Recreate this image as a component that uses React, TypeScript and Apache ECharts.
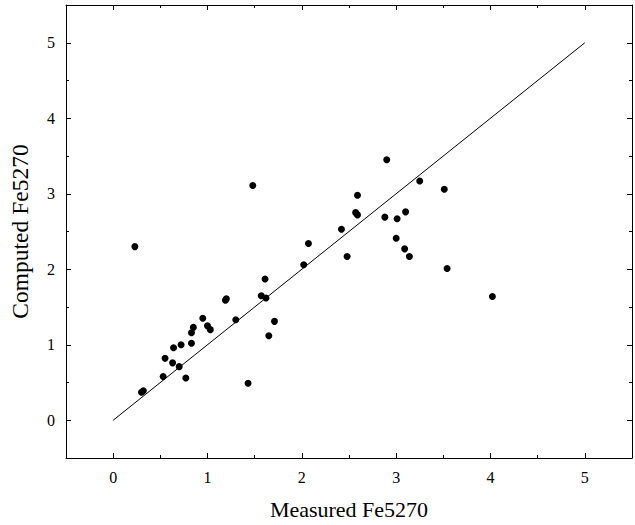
import React, { useEffect, useRef } from "react";
import * as echarts from "echarts";

const measured: number[] = [
  0.23, 0.30, 0.32, 0.53, 0.55, 0.63, 0.64, 0.70, 0.72, 0.77, 0.83, 0.83, 0.85, 0.95, 1.00,
  1.03, 1.19, 1.20, 1.30, 1.43, 1.48, 1.57, 1.62, 1.61, 1.65, 1.71, 2.02, 2.07, 2.42, 2.48,
  2.57, 2.59, 2.59, 2.88, 2.90, 3.00, 3.01, 3.09, 3.10, 3.14, 3.25, 3.51, 3.54, 4.02,
];
const computed: number[] = [
  2.30, 0.37, 0.39, 0.58, 0.82, 0.76, 0.96, 0.71, 1.00, 0.56, 1.02, 1.16, 1.23, 1.35, 1.25,
  1.20, 1.59, 1.61, 1.33, 0.49, 3.11, 1.65, 1.62, 1.87, 1.12, 1.31, 2.06, 2.34, 2.53, 2.17,
  2.75, 2.72, 2.98, 2.69, 3.45, 2.41, 2.67, 2.27, 2.76, 2.17, 3.17, 3.06, 2.01, 1.64,
];
const oneToOne: number[][] = [
  [0, 0],
  [5, 5],
];
const axisMin = -0.5;
const axisMax = 5.5;
const xTitle = "Measured Fe5270";
const yTitle = "Computed Fe5270";

const FONT = "Liberation Serif";

export default function App() {
  const ref = useRef<HTMLDivElement>(null);
  useEffect(() => {
    if (!ref.current) return;
    const chart = echarts.init(ref.current, null, { renderer: "svg" });
    // Label axis: ticks every 0.5 from -0.5, labels only on integers.
    const labelAxis = () => ({
      type: "value" as const,
      min: axisMin,
      max: axisMax,
      interval: 0.5,
      axisLine: { show: false, onZero: false },
      axisTick: { show: false },
      splitLine: { show: false },
      axisLabel: {
        show: true,
        color: "#000",
        fontFamily: FONT,
        fontSize: 16,
        margin: 11,
        formatter: (v: number) => (Math.abs(v - Math.round(v)) < 1e-6 ? String(Math.round(v)) : ""),
      },
    });
    // Tick axis: main ticks on half values (short), minor ticks on integers (long).
    const tickAxis = () => ({
      type: "value" as const,
      min: axisMin,
      max: axisMax,
      interval: 1,
      axisLine: { show: true, onZero: false, lineStyle: { color: "#000", width: 1 } },
      axisTick: { show: true, inside: true, length: 3, lineStyle: { color: "#000" } },
      minorTick: { show: true, splitNumber: 2, length: 5, lineStyle: { color: "#000" } },
      splitLine: { show: false },
      minorSplitLine: { show: false },
      axisLabel: { show: false },
    });
    chart.setOption({
      animation: false,
      backgroundColor: "#fff",
      textStyle: { fontFamily: FONT },
      grid: { left: 66, right: 2, top: 5, bottom: 66 },
      xAxis: [
        {
          ...labelAxis(),
          position: "bottom",
          name: xTitle,
          nameLocation: "middle",
          nameGap: 40,
          nameTextStyle: { color: "#000", fontFamily: FONT, fontSize: 22, verticalAlign: "top" },
        },
        { ...tickAxis(), position: "bottom" },
        { ...tickAxis(), position: "top" },
      ],
      yAxis: [
        {
          ...labelAxis(),
          position: "left",
          name: yTitle,
          nameLocation: "middle",
          nameGap: 34,
          nameTextStyle: { color: "#000", fontFamily: FONT, fontSize: 23.5 },
        },
        { ...tickAxis(), position: "left" },
        { ...tickAxis(), position: "right" },
      ],
      series: [
        {
          type: "line",
          data: oneToOne,
          showSymbol: false,
          symbol: "none",
          lineStyle: { color: "#000", width: 1 },
          silent: true,
        },
        {
          type: "scatter",
          data: measured.map((m, i) => [m, computed[i]]),
          symbol: "circle",
          symbolSize: 7,
          itemStyle: { color: "#000", opacity: 1 },
        },
      ],
    });
    return () => chart.dispose();
  }, []);
  return (
    <div
      ref={ref}
      style={{ position: "fixed", left: 0, top: 0, width: 635, height: 525, background: "#fff" }}
    />
  );
}
